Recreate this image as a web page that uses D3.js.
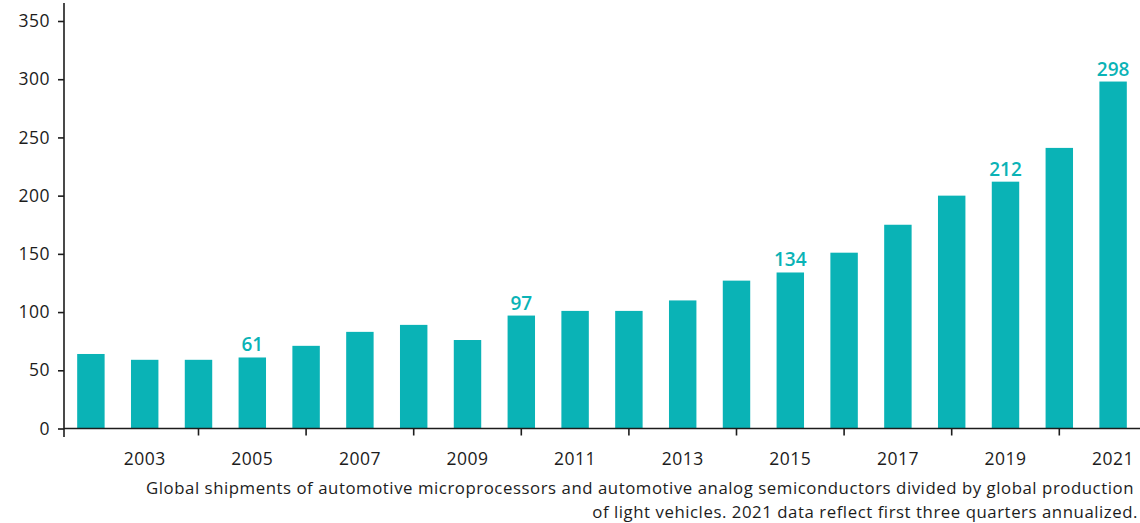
<!DOCTYPE html>
<html>
<head>
<meta charset="utf-8">
<script src="https://cdn.jsdelivr.net/npm/d3@7"></script>
<style>
  html, body { margin: 0; padding: 0; background: #fff; }
  svg { display: block; font-family: "Open Sans", sans-serif; }
</style>
</head>
<body>
<svg id="chart" width="1140" height="523"></svg>
<script>
// Semiconductor units per light vehicle, by year
const years = [2002, 2003, 2004, 2005, 2006, 2007, 2008, 2009, 2010, 2011,
               2012, 2013, 2014, 2015, 2016, 2017, 2018, 2019, 2020, 2021];
const values = [64, 59, 59, 61, 71, 83, 89, 76, 97, 101,
                101, 110, 127, 134, 151, 175, 200, 212, 241, 298];
const labelledYears = [2005, 2010, 2015, 2019, 2021];
const yTicks = [0, 50, 100, 150, 200, 250, 300, 350];
const xLabelYears = [2003, 2005, 2007, 2009, 2011, 2013, 2015, 2017, 2019, 2021];
const xTickYears = [2004, 2006, 2008, 2010, 2012, 2014, 2016, 2018, 2020];
const footnote = [
  "Global shipments of automotive microprocessors and automotive analog semiconductors divided by global production",
  "of light vehicles. 2021 data reflect first three quarters annualized."
];

const teal = "#0ab3b6";
const ink = "#1c1c1c";
const svg = d3.select("#chart");

const x = d3.scaleBand()
  .domain(years)
  .range([64, 1140])
  .paddingInner(0.49)
  .paddingOuter(0.245);

const y = d3.scaleLinear()
  .domain([0, 350])
  .range([428.5, 21]);

// bars
svg.append("g")
  .selectAll("rect")
  .data(years)
  .join("rect")
  .attr("x", d => x(d))
  .attr("width", x.bandwidth())
  .attr("y", (d, i) => y(values[i]))
  .attr("height", (d, i) => y(0) - y(values[i]))
  .attr("fill", teal);

// value labels on selected bars
svg.append("g")
  .selectAll("text")
  .data(labelledYears)
  .join("text")
  .attr("x", d => x(d) + x.bandwidth() / 2)
  .attr("y", d => y(values[years.indexOf(d)]) - 6)
  .attr("text-anchor", "middle")
  .attr("font-size", 19)
  .attr("font-weight", 600)
  .attr("fill", teal)
  .text(d => values[years.indexOf(d)]);

// y axis
const yAxis = svg.append("g")
  .attr("transform", "translate(64,0)")
  .call(d3.axisLeft(y).tickValues(yTicks).tickSize(6).tickPadding(8));
yAxis.select(".domain").attr("d", "M0,3V437").attr("stroke", ink).attr("stroke-width", 1.6);
yAxis.selectAll(".tick line").attr("stroke", ink).attr("stroke-width", 1.6);
yAxis.selectAll(".tick text")
  .attr("font-size", 17.5)
  .attr("font-weight", 500)
  .attr("letter-spacing", 0.5)
  .attr("fill", ink)
  .attr("font-family", "'Open Sans', sans-serif");

// x axis: ticks on even years, labels on odd years
const xAxisG = svg.append("g").attr("transform", `translate(0,${y(0)})`);
xAxisG.append("line")
  .attr("x1", 64).attr("x2", 1140)
  .attr("stroke", ink).attr("stroke-width", 1.6);
xAxisG.selectAll("line.tk")
  .data(xTickYears)
  .join("line")
  .attr("class", "tk")
  .attr("x1", d => x(d) + x.bandwidth() / 2)
  .attr("x2", d => x(d) + x.bandwidth() / 2)
  .attr("y1", 0).attr("y2", 7)
  .attr("stroke", ink).attr("stroke-width", 1.6);
xAxisG.selectAll("text")
  .data(xLabelYears)
  .join("text")
  .attr("x", d => x(d) + x.bandwidth() / 2)
  .attr("y", 36)
  .attr("text-anchor", "middle")
  .attr("font-size", 17.5)
  .attr("font-weight", 500)
  .attr("letter-spacing", 0.5)
  .attr("fill", ink)
  .text(d => d);

// footnote
svg.append("g")
  .selectAll("text")
  .data(footnote)
  .join("text")
  .attr("x", (d, i) => i === 0 ? 1134 : 1138)
  .attr("y", (d, i) => 494 + i * 24)
  .attr("text-anchor", "end")
  .attr("font-size", 16.8)
  .attr("font-weight", 500)
  .attr("letter-spacing", 0.55)
  .attr("fill", ink)
  .text(d => d);
</script>
</body>
</html>
